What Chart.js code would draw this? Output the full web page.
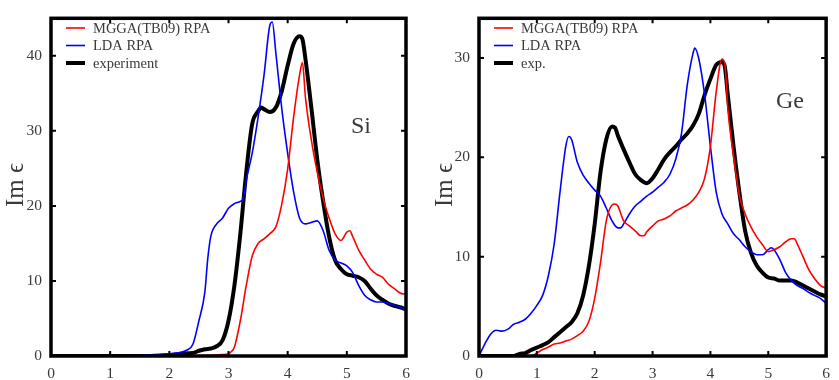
<!DOCTYPE html>
<html>
<head>
<meta charset="utf-8">
<script src="https://cdn.jsdelivr.net/npm/chart.js@4/dist/chart.umd.min.js"></script>
<style>
  html, body { margin: 0; padding: 0; background: #fff; }
  #wrap { position: relative; width: 839px; height: 380px; }
  canvas { position: absolute; top: 0; }
</style>
</head>
<body>
<div id="wrap">
  <canvas id="si" width="420" height="380" style="left:0px"></canvas>
  <canvas id="ge" width="419" height="380" style="left:420px"></canvas>
</div>
<script>
// ---------------- Data ----------------
const xTicks = [0, 1, 2, 3, 4, 5, 6];
const siYTicks = [0, 10, 20, 30, 40];
const geYTicks = [0, 10, 20, 30];
const legendLabelsSi = ['MGGA(TB09) RPA', 'LDA RPA', 'experiment'];
const legendLabelsGe = ['MGGA(TB09) RPA', 'LDA RPA', 'exp.'];

// Si panel
const siMggaX = [0, 1, 2, 2.5, 2.9, 3.0, 3.05, 3.1, 3.2, 3.3, 3.4, 3.5, 3.6, 3.7, 3.8, 3.9, 4.0, 4.1, 4.2, 4.25, 4.3, 4.4, 4.5, 4.6, 4.7, 4.8, 4.9, 5.0, 5.05, 5.1, 5.2, 5.3, 5.4, 5.5, 5.6, 5.7, 5.8, 5.9, 6.0];
const siMggaY = [0, 0, 0, 0.05, 0.2, 0.3, 0.6, 1.2, 4.7, 9.4, 13.3, 15, 15.6, 16.3, 17.2, 20.2, 24.9, 31.8, 37.4, 39.1, 34.5, 28.8, 24.5, 21, 18.4, 16.3, 15.4, 16.5, 16.7, 15.9, 14.1, 12.8, 11.6, 10.9, 10.5, 9.6, 9, 8.4, 8.2];

const siLdaX = [0, 1.0, 1.5, 2.0, 2.2, 2.3, 2.4, 2.5, 2.6, 2.65, 2.7, 2.8, 2.9, 3.0, 3.1, 3.2, 3.25, 3.3, 3.4, 3.5, 3.6, 3.7, 3.74, 3.8, 3.9, 4.0, 4.1, 4.2, 4.3, 4.4, 4.5, 4.6, 4.7, 4.8, 4.9, 5.0, 5.1, 5.2, 5.3, 5.4, 5.5, 5.6, 5.7, 5.8, 5.9, 6.0];
const siLdaY = [0, 0, 0.1, 0.3, 0.5, 0.8, 1.6, 4.7, 8.5, 13, 15.9, 17.6, 18.4, 19.7, 20.3, 20.6, 21, 23.4, 27, 31.8, 37.4, 44.1, 44.5, 40.4, 33, 27, 21.9, 18.4, 17.6, 17.8, 18, 16.7, 14.1, 12.8, 12.4, 12, 11.1, 9.4, 8.1, 7.5, 7.2, 7.2, 7, 6.8, 6.5, 6];

const siExpX = [0, 1.0, 1.5, 2.0, 2.2, 2.4, 2.5, 2.6, 2.7, 2.8, 2.9, 3.0, 3.1, 3.2, 3.3, 3.4, 3.5, 3.55, 3.6, 3.7, 3.8, 3.9, 4.0, 4.1, 4.2, 4.25, 4.3, 4.4, 4.5, 4.6, 4.7, 4.8, 4.9, 5.0, 5.1, 5.2, 5.3, 5.4, 5.5, 5.6, 5.7, 5.8, 5.9, 6.0];
const siExpY = [0, 0, 0, 0.1, 0.3, 0.4, 0.7, 0.9, 1.0, 1.3, 2.1, 4.7, 9.4, 16.3, 24.5, 30.9, 32.6, 33.1, 32.9, 32.5, 33.1, 35.3, 38.7, 41.6, 42.6, 42.2, 39.6, 33.1, 26.2, 20.6, 15.9, 12.8, 11.6, 10.9, 10.7, 10.5, 10, 9, 8.1, 7.5, 7, 6.7, 6.5, 6.2];

// Ge panel
const geMggaX = [0, 0.9, 1.0, 1.1, 1.2, 1.3, 1.4, 1.5, 1.6, 1.7, 1.8, 1.9, 2.0, 2.1, 2.2, 2.3, 2.35, 2.4, 2.5, 2.6, 2.7, 2.8, 2.85, 2.9, 3.0, 3.1, 3.2, 3.3, 3.4, 3.5, 3.6, 3.7, 3.8, 3.9, 4.0, 4.1, 4.2, 4.25, 4.3, 4.4, 4.5, 4.6, 4.7, 4.8, 4.9, 5.0, 5.1, 5.2, 5.3, 5.4, 5.45, 5.5, 5.6, 5.7, 5.8, 5.9, 6.0];
const geMggaY = [0, 0, 0.3, 0.65, 0.9, 1.2, 1.3, 1.5, 1.7, 2.05, 2.5, 3.5, 5.8, 9.4, 13.6, 15.2, 15.3, 15.1, 13.6, 13.1, 12.6, 12.1, 12.1, 12.5, 13.1, 13.6, 13.8, 14.1, 14.6, 14.9, 15.2, 15.7, 16.5, 17.9, 21.1, 26.6, 29.9, 29.4, 25, 20.1, 16.2, 14.3, 13, 12, 11.2, 10.5, 10.7, 11, 11.5, 11.8, 11.8, 11.3, 10, 8.7, 7.8, 7.1, 6.8];

const geLdaX = [0, 0.1, 0.2, 0.3, 0.4, 0.5, 0.6, 0.7, 0.8, 0.9, 1.0, 1.1, 1.2, 1.3, 1.4, 1.5, 1.55, 1.6, 1.7, 1.8, 1.9, 2.0, 2.1, 2.2, 2.3, 2.4, 2.45, 2.5, 2.6, 2.7, 2.8, 2.9, 3.0, 3.1, 3.2, 3.3, 3.4, 3.5, 3.6, 3.7, 3.73, 3.8, 3.9, 4.0, 4.1, 4.2, 4.3, 4.4, 4.5, 4.6, 4.7, 4.8, 4.9, 5.0, 5.05, 5.1, 5.2, 5.3, 5.4, 5.5, 5.6, 5.7, 5.8, 5.9, 6.0];
const geLdaY = [0, 1.2, 2.2, 2.6, 2.5, 2.7, 3.2, 3.4, 3.7, 4.3, 5.1, 6.1, 8.1, 11.3, 16.5, 21.1, 22.1, 21.8, 19.5, 18.2, 17.4, 16.7, 16.1, 14.9, 13.6, 12.9, 12.9, 13.3, 14.3, 15.1, 15.6, 16.1, 16.5, 17, 17.5, 18.3, 19.8, 22.4, 27.3, 30.5, 31, 29.9, 26.3, 21.1, 16.5, 14.3, 13.3, 12.3, 11.7, 11, 10.5, 10.2, 10.2, 10.7, 10.9, 10.7, 9.7, 8.4, 7.6, 7.1, 6.8, 6.4, 6.1, 5.8, 5.3];

const geExpX = [0, 0.6, 0.7, 0.8, 0.9, 1.0, 1.1, 1.2, 1.3, 1.4, 1.5, 1.6, 1.7, 1.8, 1.9, 2.0, 2.1, 2.2, 2.3, 2.35, 2.4, 2.5, 2.6, 2.7, 2.8, 2.9, 3.0, 3.1, 3.2, 3.3, 3.4, 3.5, 3.6, 3.7, 3.8, 3.9, 4.0, 4.1, 4.2, 4.25, 4.3, 4.4, 4.5, 4.6, 4.7, 4.8, 4.9, 5.0, 5.1, 5.2, 5.3, 5.4, 5.5, 5.6, 5.7, 5.8, 5.9, 6.0];
const geExpY = [0, 0, 0.2, 0.3, 0.6, 0.85, 1.1, 1.4, 1.9, 2.4, 2.9, 3.4, 4.3, 6.1, 9.1, 13.3, 18.5, 21.8, 23.1, 23, 22.2, 20.8, 19.5, 18.3, 17.7, 17.4, 17.9, 18.8, 19.8, 20.5, 21.1, 21.8, 22.4, 23.2, 24.4, 26.3, 27.9, 29.3, 29.6, 29.1, 26.3, 21.1, 16.5, 12.6, 10.4, 9.1, 8.4, 7.9, 7.8, 7.6, 7.6, 7.6, 7.4, 7.1, 6.8, 6.5, 6.2, 6.0];

// ---------------- Helpers ----------------
const FONT = "'Liberation Serif', 'DejaVu Serif', serif";
const TEXT = '#3a3a3a';
const pts = (xs, ys) => xs.map((x, i) => ({ x: x, y: ys[i] }));

function framePlugin(yTickVals, label, labelPos, legendLabels) {
  return {
    id: 'frame_' + label,
    afterDatasetsDraw(chart) {
      const { ctx, chartArea: a, scales } = chart;
      ctx.save();
      // inward tick marks
      ctx.strokeStyle = '#000';
      ctx.lineWidth = 2;
      const L = 5;
      xTicks.forEach(v => {
        const px = scales.x.getPixelForValue(v);
        ctx.beginPath();
        ctx.moveTo(px, a.bottom); ctx.lineTo(px, a.bottom - L);
        ctx.moveTo(px, a.top); ctx.lineTo(px, a.top + L);
        ctx.stroke();
      });
      yTickVals.forEach(v => {
        const py = scales.y.getPixelForValue(v);
        ctx.beginPath();
        ctx.moveTo(a.left, py); ctx.lineTo(a.left + L, py);
        ctx.moveTo(a.right, py); ctx.lineTo(a.right - L, py);
        ctx.stroke();
      });
      // frame
      ctx.lineWidth = 3.5;
      ctx.strokeRect(a.left, a.top, a.right - a.left, a.bottom - a.top);

      // legend
      const colors = ['#ff0000', '#0000ff', '#000000'];
      const widths = [1.6, 1.6, 4];
      const rows = [28, 45.5, 63];
      ctx.font = '14.5px ' + FONT;
      ctx.textBaseline = 'middle';
      ctx.textAlign = 'left';
      legendLabels.forEach((t, i) => {
        ctx.strokeStyle = colors[i];
        ctx.lineWidth = widths[i];
        ctx.beginPath();
        ctx.moveTo(a.left + 15, rows[i]);
        ctx.lineTo(a.left + 34, rows[i]);
        ctx.stroke();
        ctx.fillStyle = TEXT;
        ctx.fillText(t, a.left + 42, rows[i] + 1);
      });

      // material label
      ctx.font = '24px ' + FONT;
      ctx.textAlign = 'center';
      ctx.fillStyle = TEXT;
      ctx.fillText(label, labelPos[0], labelPos[1]);

      // y axis title
      ctx.save();
      ctx.translate(labelPos[2], 185);
      ctx.rotate(-Math.PI / 2);
      ctx.font = '25px ' + FONT;
      ctx.fillText('Im \u03F5', 0, 0);
      ctx.restore();
      ctx.restore();
    }
  };
}

function makeChart(id, series, yMax, yTickVals, yAxisWidth, padRight, label, labelPos, legendLabels) {
  const [mx, my, lx, ly, ex, ey] = series;
  return new Chart(document.getElementById(id), {
    type: 'line',
    data: {
      datasets: [
        { data: pts(mx, my), borderColor: '#ff0000', borderWidth: 1.6, pointRadius: 0, cubicInterpolationMode: 'monotone', fill: false },
        { data: pts(lx, ly), borderColor: '#0000ff', borderWidth: 1.6, pointRadius: 0, cubicInterpolationMode: 'monotone', fill: false },
        { data: pts(ex, ey), borderColor: '#000000', borderWidth: 4, pointRadius: 0, cubicInterpolationMode: 'monotone', fill: false }
      ]
    },
    options: {
      responsive: false,
      animation: false,
      events: [],
      layout: { padding: { top: 7, right: padRight, left: 0, bottom: 0 } },
      plugins: { legend: { display: false }, tooltip: { enabled: false } },
      scales: {
        x: {
          type: 'linear', min: 0, max: 6,
          grid: { display: false, drawTicks: false },
          border: { display: false },
          afterBuildTicks: s => { s.ticks = xTicks.map(v => ({ value: v })); },
          afterFit: s => { s.height = 24; },
          ticks: { color: TEXT, font: { family: FONT, size: 15.5 }, padding: 9, maxRotation: 0, autoSkip: false }
        },
        y: {
          type: 'linear', min: 0, max: yMax,
          grid: { display: false, drawTicks: false },
          border: { display: false },
          afterBuildTicks: s => { s.ticks = yTickVals.map(v => ({ value: v })); },
          afterFit: s => { s.width = yAxisWidth; },
          ticks: { color: TEXT, font: { family: FONT, size: 15.5 }, padding: 9, autoSkip: false }
        }
      }
    },
    plugins: [framePlugin(yTickVals, label, labelPos, legendLabels)]
  });
}

makeChart('si', [siMggaX, siMggaY, siLdaX, siLdaY, siExpX, siExpY], 45, siYTicks, 51, 14, 'Si', [361, 127, 16], legendLabelsSi);
makeChart('ge', [geMggaX, geMggaY, geLdaX, geLdaY, geExpX, geExpY], 34, geYTicks, 59, 6, 'Ge', [370, 102, 25], legendLabelsGe);
</script>
</body>
</html>
